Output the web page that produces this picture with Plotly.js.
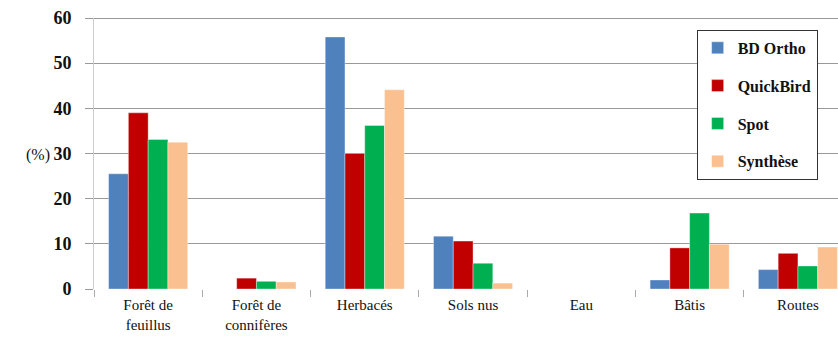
<!DOCTYPE html>
<html><head><meta charset="utf-8">
<script src="https://cdn.plot.ly/plotly-3.0.1.min.js"></script>
</head><body style="margin:0">
<div id="chart" style="width:838px;height:347px"></div>
<script>
const categories = ["Forêt de<br>feuillus", "Forêt de<br>connifères", "Herbacés", "Sols nus", "Eau", "Bâtis", "Routes"];
const seriesNames = ["BD Ortho", "QuickBird", "Spot", "Synthèse"];
const bdOrtho   = [25.5, 0,   55.8, 11.7, 0, 2.0, 4.3];
const quickBird = [39.0, 2.4, 30.0, 10.6, 0, 9.1, 7.9];
const spot      = [33.1, 1.7, 36.2, 5.7,  0, 16.8, 5.1];
const synthese  = [32.5, 1.55, 44.1, 1.3, 0, 9.9, 9.3];
const yTickVals = [0, 10, 20, 30, 40, 50, 60];
const colors = ["#4F81BD", "#C00000", "#00B050", "#FAC090"];
const values = [bdOrtho, quickBird, spot, synthese];

const FAM = "Liberation Serif";
const traces = values.map((v, i) => ({
  type: "bar", x: categories, y: v, name: "<b>" + seriesNames[i] + "</b>",
  legendgroup: "g" + i,
  marker: {color: colors[i], line: {color: "rgba(255,255,255,0.6)", width: 0.6}}
}));

const layout = {
  width: 838, height: 347,
  font: {family: FAM, color: "#111"},
  margin: {l: 94, r: 0, t: 18, b: 58},
  paper_bgcolor: "#fff", plot_bgcolor: "#fff",
  barmode: "group", bargap: 0.27, bargroupgap: 0,
  showlegend: true,
  legend: {x: 0.81, y: 0.956, xanchor: "left", yanchor: "top",
    bordercolor: "#333", borderwidth: 1, bgcolor: "#fff",
    traceorder: "grouped", tracegroupgap: 14,
    font: {family: FAM, size: 16, color: "#111"}},
  xaxis: {type: "category", range: [-0.5, 6.37], tickson: "boundaries",
    ticks: "outside", ticklen: 7, tickcolor: "#aaa", tickwidth: 1,
    ticklabelstandoff: 5,
    showgrid: false, showline: false, zeroline: false,
    tickfont: {family: FAM, size: 15, color: "#111"}},
  yaxis: {range: [0, 60], tickmode: "array", tickvals: yTickVals,
    ticktext: yTickVals.map(v => "<b>" + v + "</b>"),
    ticks: "outside", ticklen: 8,
    tickcolor: "#999", gridcolor: "#999", gridwidth: 1,
    showline: true, linecolor: "#ccc", linewidth: 1, zeroline: false,
    ticklabelstandoff: 10,
    tickfont: {family: FAM, size: 18, color: "#111"}},
  shapes: [{type: "line", xref: "paper", yref: "y", x0: 0, x1: 1, y0: 60, y1: 60,
    line: {color: "#333", width: 1.2}}],
  annotations: [{text: "(%)", xref: "paper", yref: "paper", x: -0.094, y: 0.494,
    showarrow: false, font: {family: FAM, size: 16, color: "#111"}}]
};
Plotly.newPlot("chart", traces, layout, {displayModeBar: false});
</script>
</body></html>
